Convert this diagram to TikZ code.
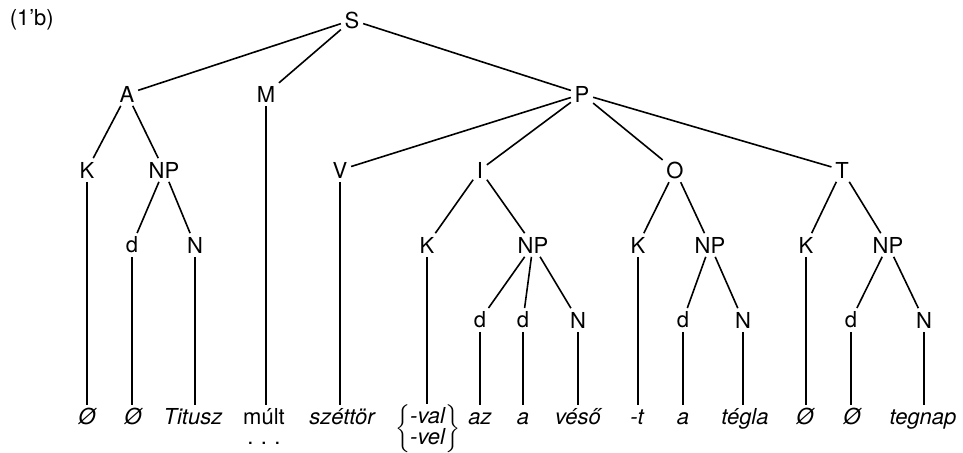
\documentclass[tikz,border=0pt]{standalone}
\usepackage{fontspec}
\setmainfont{TeX Gyre Heros}
\begin{document}
\begin{tikzpicture}[x=0.5pt, y=-0.5pt, line width=0.8pt,
    every node/.style={inner sep=1.5pt, font=\fontsize{11}{13}\selectfont},
    leaf/.style={anchor=north, font=\fontsize{11}{13}\selectfont\itshape, text height=7.8pt, text depth=2pt}]
\useasboundingbox (0,0) rectangle (963,452);
\node[anchor=west] (lab) at (6,20) {(1'b)};
% upper part of the tree
\node (S) at (352,20) {S};
\node (A) at (127,94) {A};
\node (M) at (266,94) {M};
\node (P) at (582,94) {P};
\node (AK) at (87,170) {K};
\node (ANP) at (164,170) {NP};
\node (V) at (340,170) {V};
\node (I) at (480,170) {I};
\node (O) at (675,170) {O};
\node (T) at (842,170) {T};
\node (Ad) at (132,245) {d};
\node (AN) at (195,245) {N};
\node (IK) at (427,245) {K};
\node (INP) at (533,245) {NP};
\node (OK) at (638,245) {K};
\node (ONP) at (710,245) {NP};
\node (TK) at (806,245) {K};
\node (TNP) at (888,245) {NP};
\node (Ida) at (480,320) {d};
\node (Idb) at (523,320) {d};
\node (IN) at (578,320) {N};
\node (Od) at (683,320) {d};
\node (ON) at (743,320) {N};
\node (Td) at (851,320) {d};
\node (TN) at (924,320) {N};
% words
\node[leaf] (w1) at (87,405) {Ø};
\node[leaf] (w2) at (133,405) {Ø};
\node[leaf] (w3) at (193,405) {Titusz};
\node[leaf, font=\fontsize{11}{13}\selectfont] (w4) at (264,405) {múlt};
\node (dots) at (264,443) {.\,\,.\,\,.};
\node[leaf] (w5) at (342,405) {széttör};
\node[anchor=north, inner sep=0pt] (w6) at (428,404)
  {$\left\{\renewcommand\arraystretch{0.7}\begin{tabular}{@{}l@{}}\textit{-val}\\\textit{-vel}\end{tabular}\right\}$};
\node[leaf] (w7) at (480,405) {az};
\node[leaf] (w8) at (523,405) {a};
\node[leaf] (w9) at (578,405) {véső};
\node[leaf] (w10) at (637,405) {-t};
\node[leaf] (w11) at (683,405) {a};
\node[leaf] (w12) at (745,405) {tégla};
\node[leaf] (w13) at (805,405) {Ø};
\node[leaf] (w14) at (852,405) {Ø};
\node[leaf] (w15) at (923,405) {tegnap};
% branches
\foreach \a/\b in {S/A, S/M, S/P, A/AK, A/ANP, P/V, P/I, P/O, P/T,
    ANP/Ad, ANP/AN, I/IK, I/INP, O/OK, O/ONP, T/TK, T/TNP,
    INP/Ida, INP/Idb, INP/IN, ONP/Od, ONP/ON, TNP/Td, TNP/TN}
  \draw (\a) -- (\b);
\foreach \a/\b in {AK/w1, Ad/w2, AN/w3, M/w4, V/w5, IK/w6, Ida/w7, Idb/w8,
    IN/w9, OK/w10, Od/w11, ON/w12, TK/w13, Td/w14, TN/w15}
  \draw (\a) -- (\a |- \b.north);
\end{tikzpicture}
\end{document}
